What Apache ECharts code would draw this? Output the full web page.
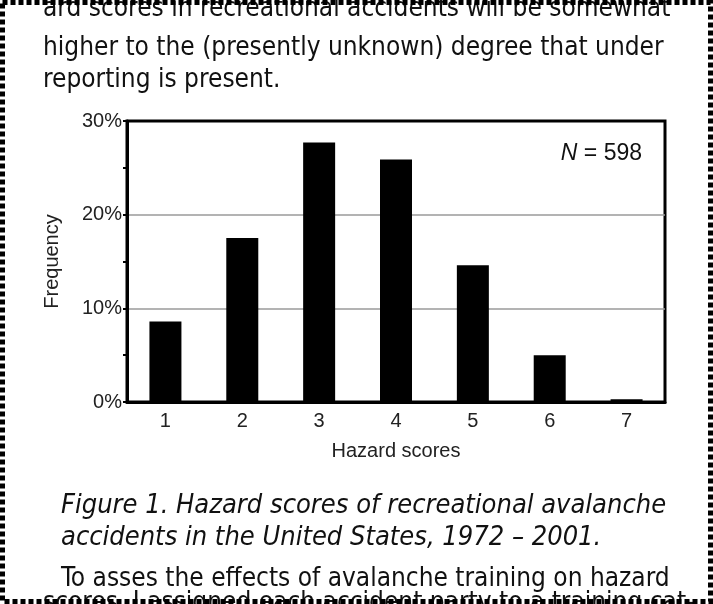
<!DOCTYPE html>
<html>
<head>
<meta charset="utf-8">
<script src="https://cdn.jsdelivr.net/npm/echarts@6/dist/echarts.min.js"></script>
<style>
  html, body { margin: 0; padding: 0; background: #fff; }
  #container { width: 713px; height: 604px; }
</style>
</head>
<body>
<div id="container"></div>
<script>
// hazard score categories and share of accidents (%)
const scores = ['1', '2', '3', '4', '5', '6', '7'];
const frequency = [8.6, 17.5, 27.7, 25.9, 14.6, 5.0, 0.3];
const yTicks = [0, 10, 20, 30];

const bodyLines = [
  'ard scores in recreational accidents will be somewhat',
  'higher to the (presently unknown) degree that under',
  'reporting is present.'
];
const captionLines = [
  'Figure 1. Hazard scores of recreational avalanche',
  'accidents in the United States, 1972 \u2013 2001.'
];
const afterLines = [
  'To asses the effects of avalanche training on hazard',
  'scores. I assigned each accident party to a training cat-'
];

const dom = document.getElementById('container');
const myChart = echarts.init(dom, null, { renderer: 'canvas' });

const sans = '"Liberation Sans", Arial, sans-serif';
const bodyFont = '26px "Liberation Sans Narrow", "DejaVu Sans Condensed", sans-serif';
const capFont = 'italic 27px "Liberation Sans Narrow", "DejaVu Sans Condensed", sans-serif';

function textLine(str, x, y, font) {
  return {
    type: 'text',
    left: x,
    top: y,
    style: { text: str, font: font, fill: '#111' }
  };
}

const graphics = [
  textLine(bodyLines[0], 43, -4, bodyFont),
  textLine(bodyLines[1], 43, 35, bodyFont),
  textLine(bodyLines[2], 43, 67, bodyFont),
  textLine(captionLines[0], 61, 492, capFont),
  textLine(captionLines[1], 61, 524, capFont),
  textLine(afterLines[0], 61, 566, bodyFont),
  textLine(afterLines[1], 43, 590, bodyFont),
  {
    type: 'rect',
    shape: { x: 2.5, y: 2.5, width: 708, height: 599 },
    style: { fill: 'none', stroke: '#000', lineWidth: 5, lineDash: [5, 3] },
    z: 100
  }
];

let option = {
  animation: false,
  backgroundColor: '#fff',
  title: {
    text: '{i|N} = 598',
    right: 66,
    top: 137,
    textStyle: {
      fontFamily: sans,
      fontSize: 23,
      fontWeight: 'normal',
      color: '#111',
      rich: {
        i: { fontFamily: sans, fontSize: 23, fontStyle: 'italic', color: '#111' }
      }
    }
  },
  grid: {
    left: 127,
    right: 48,
    top: 121,
    bottom: 202,
    show: true,
    borderColor: '#000',
    borderWidth: 3
  },
  xAxis: {
    type: 'category',
    data: scores,
    name: 'Hazard scores',
    nameLocation: 'middle',
    nameGap: 39,
    nameTextStyle: { fontFamily: sans, fontSize: 20, color: '#222' },
    axisLine: { lineStyle: { color: '#000', width: 3 } },
    axisTick: { show: false },
    axisLabel: { fontFamily: sans, fontSize: 20, color: '#222', margin: 9 }
  },
  yAxis: {
    type: 'value',
    min: yTicks[0],
    max: yTicks[yTicks.length - 1],
    interval: 10,
    name: 'Frequency',
    nameLocation: 'middle',
    nameGap: 65,
    nameTextStyle: { fontFamily: sans, fontSize: 20, color: '#222' },
    axisLine: { show: true, lineStyle: { color: '#000', width: 3 } },
    axisTick: { show: true, length: 4, lineStyle: { color: '#000', width: 2 } },
    minorTick: { show: true, splitNumber: 2, length: 4, lineStyle: { color: '#000', width: 2 } },
    axisLabel: { fontFamily: sans, fontSize: 20, color: '#222', margin: 5, formatter: '{value}%' },
    splitLine: {
      show: true,
      // only the 10% and 20% lines are grey; 0 and 30 sit on the black frame
      lineStyle: { color: ['#000', '#9a9a9a', '#9a9a9a', '#000'], width: 1.5 }
    }
  },
  series: [
    {
      type: 'bar',
      data: frequency,
      barWidth: 32,
      itemStyle: { color: '#000' }
    }
  ],
  graphic: graphics
};

myChart.setOption(option);
window.addEventListener('resize', myChart.resize);
</script>
</body>
</html>
